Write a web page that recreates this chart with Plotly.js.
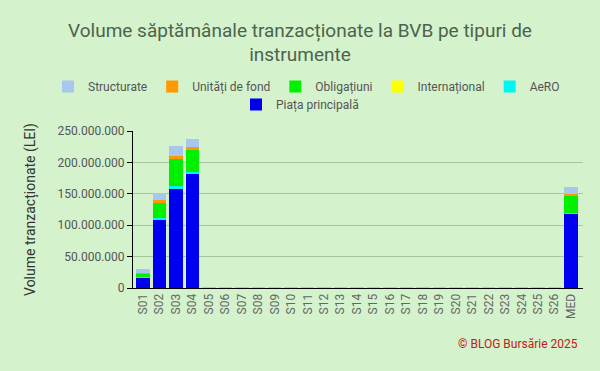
<!DOCTYPE html>
<html><head><meta charset="utf-8">
<script src="https://cdn.plot.ly/plotly-3.0.1.min.js"></script>
<style>body{margin:0;background:#d4f2cc}</style>
</head><body><div id="chart" style="width:600px;height:371px"></div>
<script>
const categories = ["S01","S02","S03","S04","S05","S06","S07","S08","S09","S10","S11","S12","S13","S14","S15","S16","S17","S18","S19","S20","S21","S22","S23","S24","S25","S26","MED"];
const piataPrincipala = [16500000,108000000,159000000,182000000,0,0,0,0,0,0,0,0,0,0,0,0,0,0,0,0,0,0,0,0,0,0,118000000];
const aero = [1000000,3700000,3000000,2700000,0,0,0,0,0,0,0,0,0,0,0,0,0,0,0,0,0,0,0,0,0,0,2000000];
const international = [0,0,0,0,0,0,0,0,0,0,0,0,0,0,0,0,0,0,0,0,0,0,0,0,0,0,0];
const obligatiuni = [5000000,24000000,43000000,34500000,0,0,0,0,0,0,0,0,0,0,0,0,0,0,0,0,0,0,0,0,0,0,26500000];
const unitatiFond = [2000000,5000000,5000000,5000000,0,0,0,0,0,0,0,0,0,0,0,0,0,0,0,0,0,0,0,0,0,0,2700000];
const structurate = [5500000,10500000,16500000,12700000,400000,400000,400000,400000,400000,400000,400000,400000,400000,400000,400000,400000,400000,400000,400000,400000,400000,400000,400000,400000,400000,400000,11700000];

const series = [
  {name:"Piața principală", y:piataPrincipala, color:"#0000f0", legend:"legend2"},
  {name:"AeRO", y:aero, color:"#00f5f5", legend:"legend"},
  {name:"Internațional", y:international, color:"#ffff00", legend:"legend"},
  {name:"Obligațiuni", y:obligatiuni, color:"#00f000", legend:"legend"},
  {name:"Unități de fond", y:unitatiFond, color:"#ff9900", legend:"legend"},
  {name:"Structurate", y:structurate, color:"#a7c7f0", legend:"legend"}
];
const traces = series.map(s => ({
  type:"bar", name:s.name, x:categories, y:s.y, legend:s.legend,
  marker:{color:s.color}, hovertemplate:"%{y:,d}<extra>"+s.name+"</extra>"
}));
const font = "Roboto, 'Open Sans', sans-serif";
const legendBase = {orientation:"h", traceorder:"reversed", yanchor:"top", font:{size:12, color:"#555"}, bgcolor:"rgba(0,0,0,0)"};
Plotly.newPlot("chart", traces, {
  width:600, height:371,
  paper_bgcolor:"#d4f2cc", plot_bgcolor:"#d4f2cc",
  font:{family:font, color:"#555"},
  separators:",.",
  barmode:"stack", bargap:0.18,
  title:{text:"Volume săptămânale tranzacționate la BVB pe tipuri de<br>instrumente", font:{size:19, color:"#4d634d", family:font}, x:0.5, xanchor:"center", y:0.901, yanchor:"middle"},
  legend:Object.assign({}, legendBase, {xref:"paper", yref:"paper", x:(48-133)/450, xanchor:"left", y:(288-72)/157}),
  legend2:Object.assign({}, legendBase, {xref:"container", yref:"container", x:0.5, xanchor:"center", y:1-90/371}),
  margin:{l:133, r:17, t:131, b:83, autoexpand:false},
  xaxis:{type:"category", range:[-0.61, 26.73], tickangle:-90, tickfont:{size:12, color:"#666"}, showline:true, linecolor:"#000", linewidth:1, ticks:"", showgrid:false},
  yaxis:{range:[0,250000000], tickvals:[0,50000000,100000000,150000000,200000000,250000000], tickformat:",d", tickfont:{size:12, color:"#555"}, showline:true, linecolor:"#000", linewidth:1, ticks:"outside", ticklen:5, tickcolor:"#000", gridcolor:"#a8c4a0", zeroline:false,
    title:{text:"Volume tranzacționate (LEI)", font:{size:14, color:"#333"}, standoff:18}},
  annotations:[{text:"© BLOG Bursărie 2025", xref:"paper", yref:"paper", x:0.993, xanchor:"right", y:-0.357, yanchor:"middle", showarrow:false, font:{size:12, color:"#c0201a"}}]
}, {displayModeBar:false});
</script></body></html>
